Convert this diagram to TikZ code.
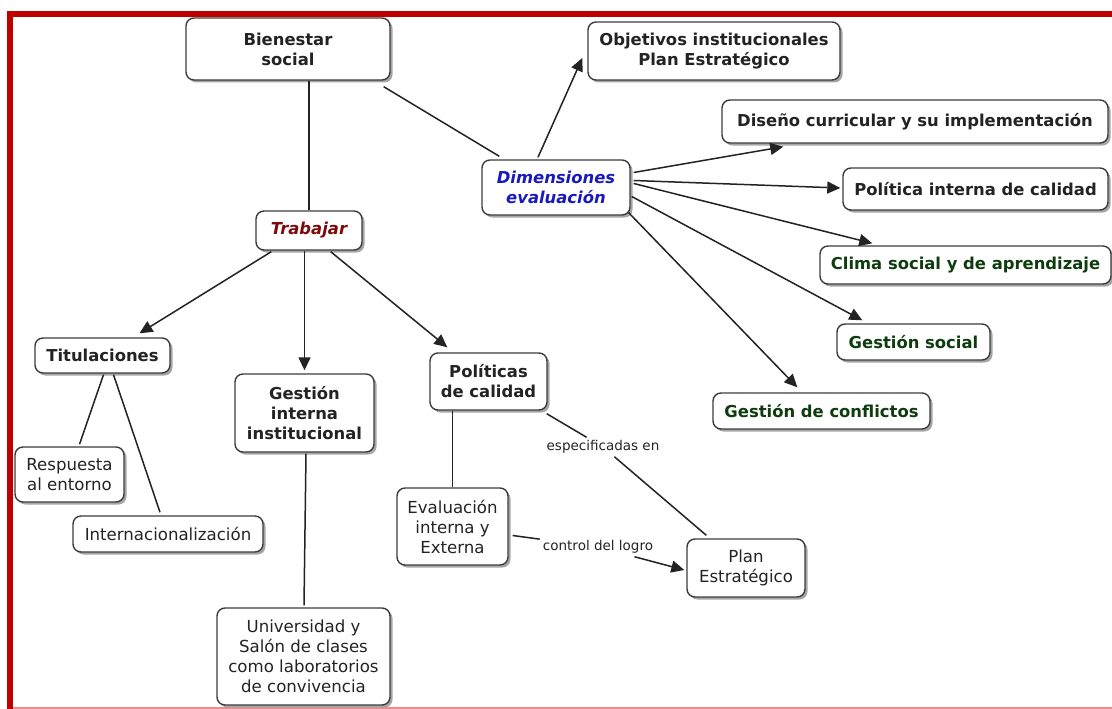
\documentclass[tikz,border=0pt]{standalone}
\usepackage{fontspec}
\setmainfont{DejaVu Sans}
\usetikzlibrary{arrows.meta,shadows,calc}
\definecolor{frame}{RGB}{192,0,0}
\definecolor{framepink}{RGB}{238,140,140}
\definecolor{cblue}{RGB}{25,25,190}
\definecolor{cred}{RGB}{125,10,10}
\definecolor{cgreen}{RGB}{15,60,15}
\definecolor{ink}{RGB}{35,35,35}
\definecolor{edge}{RGB}{60,60,60}
\tikzset{
  concept/.style={draw=edge, line width=1.4pt, rounded corners=8pt, fill=white, align=center,
    inner sep=0pt, text=ink,
    drop shadow={shadow xshift=2.5pt, shadow yshift=-2.5pt, fill=black!35, opacity=1}},
  bfont/.style={font=\fontsize{16.4}{20}\selectfont\bfseries},
  bifont/.style={font=\fontsize{16.4}{20}\selectfont\bfseries\itshape},
  rfont/.style={font=\fontsize{16.6}{20}\selectfont},
  lbl/.style={font=\fontsize{13.5}{16}\selectfont, text=ink, inner sep=3pt},
  link/.style={draw=ink, line width=1.5pt},
  arr/.style={link, -{Triangle[length=13pt,width=12pt]}},
}
\begin{document}
\begin{tikzpicture}[x=1pt,y=-1pt]
\fill[white] (0,0) rectangle (1112,709);
\useasboundingbox (0,0) rectangle (1112,709);
\fill[frame] (7,11) rectangle (1112,17);
\fill[frame] (7,11) rectangle (13,709);
\fill[framepink] (13,707) rectangle (1112,709);

% concepts
\node[concept,bfont,minimum width=204pt,minimum height=62pt] (bien) at (288,49) {Bienestar\\social};
\node[concept,bfont,minimum width=252pt,minimum height=58pt] (obj) at (714,51) {Objetivos institucionales\\Plan Estratégico};
\node[concept,bfont,minimum width=386pt,minimum height=43pt] (dis) at (915,121.5) {Diseño curricular y su implementación};
\node[concept,bifont,text=cblue,minimum width=148pt,minimum height=55pt] (dim) at (556,187.5) {Dimensiones\\evaluación};
\node[concept,bfont,minimum width=265pt,minimum height=42pt] (pol) at (975.5,189) {Política interna de calidad};
\node[concept,bifont,text=cred,minimum width=106pt,minimum height=39pt] (trab) at (309,230.5) {Trabajar};
\node[concept,bfont,text=cgreen,minimum width=291pt,minimum height=38pt] (clima) at (965.5,265) {Clima social y de aprendizaje};
\node[concept,bfont,text=cgreen,minimum width=153pt,minimum height=36pt] (gsoc) at (913.5,342) {Gestión social};
\node[concept,bfont,minimum width=135pt,minimum height=35pt] (titu) at (102.5,355.5) {Titulaciones};
\node[concept,bfont,minimum width=139pt,minimum height=78pt] (gint) at (304.5,413) {Gestión\\interna\\institucional};
\node[concept,bfont,minimum width=117pt,minimum height=57pt] (polc) at (488.5,381.5) {Políticas\\de calidad};
\node[concept,bfont,text=cgreen,minimum width=217pt,minimum height=36pt] (gcon) at (821.5,411) {Gestión de conflictos};
\node[concept,rfont,minimum width=109pt,minimum height=55pt] (resp) at (69.5,474.5) {Respuesta\\al entorno};
\node[concept,rfont,minimum width=190pt,minimum height=36pt] (inter) at (168,534) {Internacionalización};
\node[concept,rfont,minimum width=111pt,minimum height=77pt] (eval) at (452.5,526.5) {Evaluación\\interna y\\Externa};
\node[concept,rfont,minimum width=118pt,minimum height=58pt] (plan) at (746,568) {Plan\\Estratégico};
\node[concept,rfont,minimum width=173pt,minimum height=97pt] (univ) at (303.5,656.5) {Universidad y\\Salón de clases\\como laboratorios\\de convivencia};

% link labels
\node[lbl] (espec) at (603,447) {especificadas en};
\node[lbl] (ctrl) at (598,547) {control del logro};

% connectors
\draw[link] (trab.north) -- (trab.north |- bien.south);
\draw[link] ($(bien.south east)+(-7,6)$) -- ($(dim.north west)+(18,-3)$);
\draw[arr] ($(dim.north)+(-18,-2)$) -- ($(obj.west)+(-5,7)$);
\draw[arr] ($(dim.east)+(3,-15)$) -- ($(dis.south west)+(62,3)$);
\draw[arr] ($(dim.east)+(3,-7)$) -- ($(pol.west)+(-2,-1)$);
\draw[arr] ($(dim.east)+(3,-4)$) -- ($(clima.north west)+(53,-2)$);
\draw[arr] ($(dim.east)+(1,9)$) -- ($(gsoc.north west)+(26,-3)$);
\draw[arr] ($(dim.south east)+(-2,-3)$) -- ($(gcon.north west)+(85,-5)$);

\draw[arr] ($(trab.south west)+(16,1)$) -- ($(titu.north)+(37,-4)$);
\draw[arr] (trab.south -| gint.north) -- ($(gint.north)+(0,-3)$);
\draw[arr] ($(trab.south east)+(-32,1)$) -- ($(polc.north west)+(18,-5)$);

\draw[link] ($(titu.south)+(1,1)$) -- ($(resp.north)+(10,-2)$);
\draw[link] ($(titu.south)+(11,1)$) -- ($(inter.north)+(-8,-3)$);
\draw[link] ($(gint.south)+(1.5,1)$) -- ($(univ.north)+(0.5,-2)$);
\draw[link] (eval.north) -- (eval.north |- polc.south);
\draw[link] ($(polc.south east)+(-1,3)$) -- (espec);
\draw[link] (espec) -- ($(plan.north west)+(20,-3)$);
\draw[link] ($(eval.east)+(4,9)$) -- (ctrl);
\draw[arr] (ctrl) -- ($(plan.west)+(-2,2)$);
\end{tikzpicture}
\end{document}
